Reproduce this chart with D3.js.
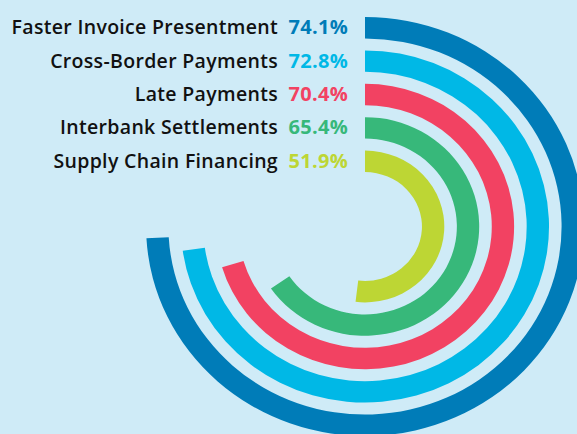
<!DOCTYPE html>
<html lang="en">
<head>
    <meta charset="UTF-8">
    <title>Radial bars</title>
    <script src="https://cdn.jsdelivr.net/npm/d3@7"></script>
    <style>
        body { margin: 0; background: #cfebf7; }
    </style>
</head>
<body>
    <script>

        //width and height
        var w = 577;
        var h = 434;

        //data, outer ring first
        var categories = ['Faster Invoice Presentment', 'Cross-Border Payments', 'Late Payments', 'Interbank Settlements', 'Supply Chain Financing'];
        var values = [74.1, 72.8, 70.4, 65.4, 51.9];
        var colors = ['#007cb8', '#00b8e6', '#f24262', '#37b87a', '#bdd634'];

        var cx = 365;
        var cy = 226.5;

        //create svg
        var svg = d3.select('body')
                    .append('svg')
                    .attr('width', w)
                    .attr('height', h);

        svg.append('rect')
            .attr('width', w)
            .attr('height', h)
            .attr('fill', '#cfebf7');

        //ring positions, outer first (value = inner edge of the ring)
        var r = d3.scaleBand()
            .domain(categories)
            .range([209.5, 54.5])
            .paddingInner(0.36);

        var angle = d3.scaleLinear()
            .domain([0, 100])
            .range([0, 2 * Math.PI]);

        var arc = d3.arc()
            .innerRadius(function(d) { return r(d.name); })
            .outerRadius(function(d) { return r(d.name) + r.bandwidth(); })
            .startAngle(0)
            .endAngle(function(d) { return angle(d.value); });

        var rows = categories.map(function(c, i) {
            return { name: c, value: values[i], color: colors[i] };
        });

        //the picture is a bit wider than tall
        svg.append('g')
            .attr('transform', 'translate(' + cx + ',' + cy + ') scale(1.045,1)')
            .selectAll('path')
            .data(rows)
            .enter()
            .append('path')
            .attr('d', arc)
            .attr('fill', function(d) { return d.color; });

        //labels next to the start of each ring
        function rowY(d) {
            return cy - (r(d.name) + r.bandwidth() / 2) + 6.5;
        }

        svg.selectAll('text.label')
            .data(rows)
            .enter()
            .append('text')
            .attr('class', 'label')
            .text(function(d) { return d.name; })
            .attr('x', 278)
            .attr('y', rowY)
            .attr('font-family', '"Open Sans", "Noto Sans", sans-serif')
            .attr('font-size', '19.5px')
            .attr('font-weight', 600)
            .attr('letter-spacing', '0.32px')
            .attr('fill', '#111')
            .attr('text-anchor', 'end');

        svg.selectAll('text.value')
            .data(rows)
            .enter()
            .append('text')
            .attr('class', 'value')
            .text(function(d) { return d.value.toFixed(1) + '%'; })
            .attr('x', 348)
            .attr('y', rowY)
            .attr('font-family', '"Open Sans", "Noto Sans", sans-serif')
            .attr('font-size', '20px')
            .attr('font-weight', 700)
            .attr('letter-spacing', '0.3px')
            .attr('fill', function(d) { return d.color; })
            .attr('text-anchor', 'end');

    </script>
</body>
</html>
